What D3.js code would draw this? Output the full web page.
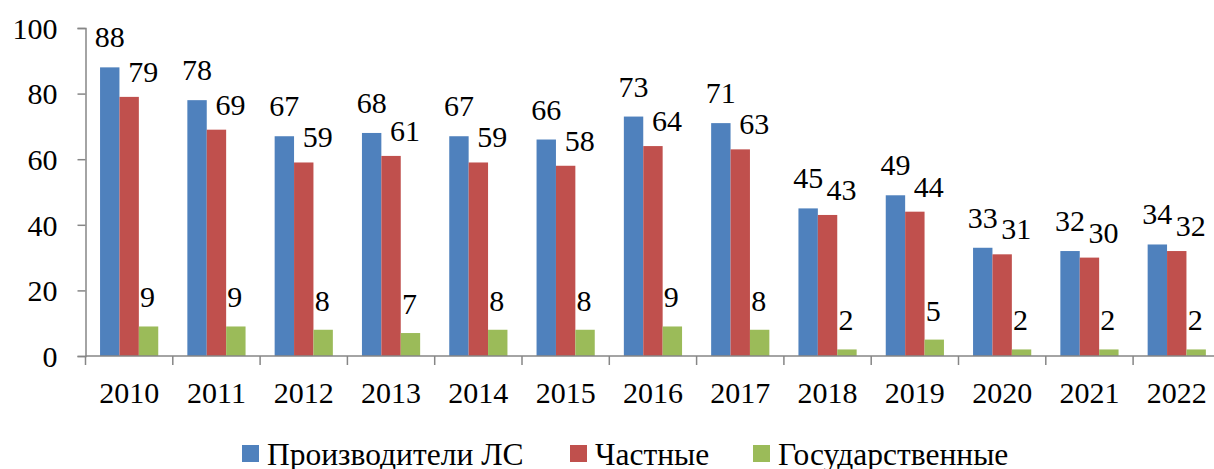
<!DOCTYPE html>
<html lang="ru">
<head>
  <meta charset="utf-8">
  <title>Производители ЛС</title>
  <script src="https://cdn.jsdelivr.net/npm/d3@7"></script>
  <style>
    body { margin: 0; background: #fff; }
    svg text { font-family: "Liberation Serif", "Times New Roman", serif; fill: #000; }
  </style>
</head>
<body>
<svg id="chart" width="1214" height="469"></svg>
<script>
// data
var years = ["2010", "2011", "2012", "2013", "2014", "2015", "2016", "2017", "2018", "2019", "2020", "2021", "2022"];
var producers = [88, 78, 67, 68, 67, 66, 73, 71, 45, 49, 33, 32, 34];
var privateCo = [79, 69, 59, 61, 59, 58, 64, 63, 43, 44, 31, 30, 32];
var stateCo = [9, 9, 8, 7, 8, 8, 9, 8, 2, 5, 2, 2, 2];
var seriesNames = ["Производители ЛС", "Частные", "Государственные"];
var yTicks = [0, 20, 40, 60, 80, 100];

var colors = ["#4F81BD", "#C0504D", "#9BBB59"];
// label nudges per series (dx, gap above bar)
var labelDx = [0, 14, -1];
var labelGap = [20, 15, 19];

var svg = d3.select("#chart");
var plotLeft = 85.5, plotTop = 28, plotBottom = 356, step = 87.3;

var x = d3.scaleBand()
  .domain(years)
  .range([plotLeft, plotLeft + step * years.length])
  .paddingInner(0).paddingOuter(0);

var xs = d3.scaleBand()
  .domain([0, 1, 2])
  .range([0, x.bandwidth()])
  .paddingInner(0).paddingOuter(0.75);

var y = d3.scaleLinear().domain([0, 100]).range([plotBottom, plotTop]);

var series = [producers, privateCo, stateCo];
var rows = [];
series.forEach(function(vals, s) {
  vals.forEach(function(v, i) { rows.push({ s: s, year: years[i], v: v }); });
});

// bars
svg.append("g").selectAll("rect")
  .data(rows)
  .enter().append("rect")
  .attr("x", function(d) { return x(d.year) + xs(d.s); })
  .attr("width", xs.bandwidth())
  .attr("y", function(d) { return y(d.v); })
  .attr("height", function(d) { return y(0) - y(d.v); })
  .attr("fill", function(d) { return colors[d.s]; });

// value labels
svg.append("g").selectAll("text")
  .data(rows)
  .enter().append("text")
  .attr("x", function(d) { return x(d.year) + xs(d.s) + xs.bandwidth() / 2 + labelDx[d.s]; })
  .attr("y", function(d) { return y(d.v) - labelGap[d.s]; })
  .attr("text-anchor", "middle")
  .style("font-size", "30px")
  .text(function(d) { return d.v; });

// y axis
var yAxis = svg.append("g")
  .attr("transform", "translate(" + plotLeft + ",0)")
  .call(d3.axisLeft(y).tickValues(yTicks).tickSize(8).tickPadding(20));
yAxis.selectAll("text").style("font-size", "30px").attr("dy", "0.34em");
yAxis.select(".domain").attr("stroke", "#868686").attr("stroke-width", 1.5);
yAxis.selectAll(".tick line").attr("stroke", "#868686").attr("stroke-width", 1.5);

// x axis, ticks at band edges
var xAxis = svg.append("g")
  .attr("transform", "translate(0," + plotBottom + ")");
xAxis.append("line")
  .attr("x1", plotLeft).attr("x2", x.range()[1])
  .attr("stroke", "#868686").attr("stroke-width", 1.5);
xAxis.selectAll("line.tk")
  .data(years.concat(["end"]))
  .enter().append("line")
  .attr("class", "tk")
  .attr("x1", function(d, i) { return plotLeft + i * x.step(); })
  .attr("x2", function(d, i) { return plotLeft + i * x.step(); })
  .attr("y1", 0).attr("y2", 9)
  .attr("stroke", "#868686").attr("stroke-width", 1.5);
xAxis.selectAll("text")
  .data(years)
  .enter().append("text")
  .attr("x", function(d) { return x(d) + x.bandwidth() / 2; })
  .attr("y", 47)
  .attr("text-anchor", "middle")
  .style("font-size", "30px")
  .text(function(d) { return d; });

// legend
var legendX = [242, 570, 753];
var legend = svg.append("g").selectAll("g")
  .data(seriesNames)
  .enter().append("g")
  .attr("transform", function(d, i) { return "translate(" + legendX[i] + ",445)"; });
legend.append("rect")
  .attr("width", 17).attr("height", 17)
  .attr("fill", function(d, i) { return colors[i]; });
legend.append("text")
  .attr("x", 25).attr("y", 20)
  .style("font-size", "31.5px")
  .text(function(d) { return d; });
</script>
</body>
</html>
